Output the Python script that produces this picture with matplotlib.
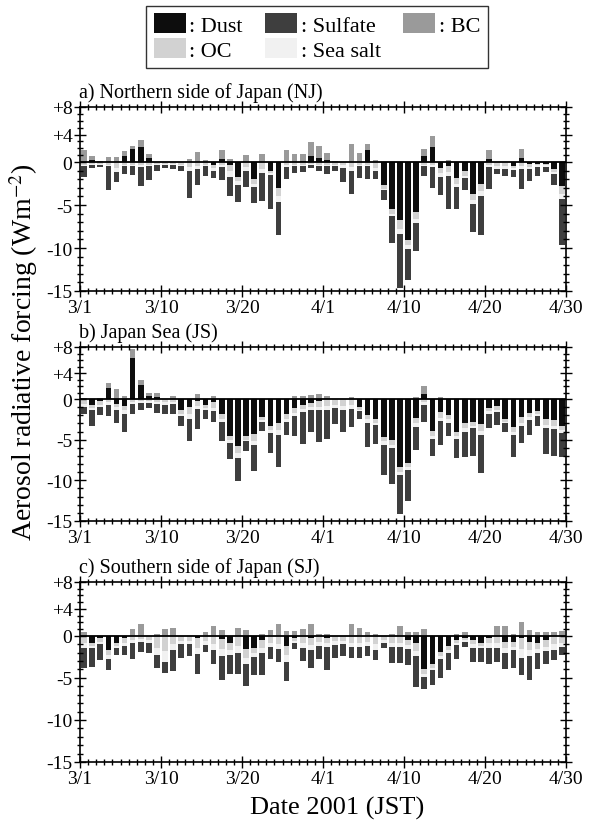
import numpy as np
import matplotlib
matplotlib.use("Agg")
import matplotlib.pyplot as plt
from matplotlib.patches import Patch

plt.rcParams['font.family'] = ['Liberation Serif', 'DejaVu Serif']
plt.rcParams['mathtext.fontset'] = 'stix'
plt.rcParams['axes.unicode_minus'] = False

# ---------------- data (W m-2), one value per day ----------------
tick_pos = [0, 10, 20, 30, 40, 50, 60]
tick_labels = ["3/1", "3/10", "3/20", "4/1", "4/10", "4/20", "4/30"]
y_ticks = [8, 4, 0, -5, -10, -15]
y_tick_labels = ["+8", "+4", "0", "-5", "-10", "-15"]
components = ["Dust", "Sulfate", "BC", "OC", "Sea salt"]
panel_titles = ["a) Northern side of Japan (NJ)", "b) Japan Sea (JS)",
                "c) Southern side of Japan (SJ)"]

# a) Northern side of Japan
dust_nj = [0, 0.35, 0, 0, 0, 0.9, 1.85, 2.15, 0.65, 0,
           0, 0, 0, 0, 0, 0, -0.3, 0.5, -0.3, -1.75,
           0, -1.95, 0, -1.1, -3.0, 0, 0, 0.2, 0.9, 0.6,
           0.3, 0, 0, 0, 0, 1.8, 0, -2.7, -5.5, -6.8,
           -9.1, -5.8, 0.9, 2.25, -0.7, -0.5, -1.9, -1.1, -3.7, -2.6,
           0.5, 0, 0, -0.5, 0.6, -0.2, -0.2, -0.2, -0.85, -2.8]
bc_nj = [1.7, 0.55, 0.1, 0.75, 0.75, 0.7, 0.5, 1.05, 0.5, 0.05,
         0, 0, 0, 0.4, 1.4, 0.3, 0, 1.2, 0.5, 0,
         1.0, 0, 1.2, 0, 0, 1.7, 1.2, 1.0, 2.0, 1.8,
         1.0, 0.1, 0, 2.6, 1.3, 0.8, 0.3, 0, 0, 0,
         0, 0, 1.0, 1.6, 0, 0.3, 0, 0, 0, 0,
         1.2, 0, 0, 0, 1.3, 0, 0, 0, 0, 0]
oc_nj = [-0.3, -0.2, -0.2, -0.3, -0.7, -0.3, -0.3, -0.4, -0.3, -0.2,
         -0.2, -0.2, -0.3, -0.6, -0.5, -0.3, -0.4, -0.4, -0.8, -0.5,
         -0.6, -0.6, -0.8, -0.2, -1.0, -0.4, -0.3, -0.3, -0.2, -0.3,
         -0.3, -0.3, -0.4, -0.6, -0.3, -0.3, -0.7, -0.4, -0.5, -1.0,
         -0.6, -0.8, -0.3, -0.4, -0.6, -0.7, -0.6, -0.5, -0.7, -0.8,
         -0.4, -0.5, -0.5, -0.2, -0.5, -0.4, -0.2, -0.2, -0.3, -0.9]
ss_nj = [-0.2, -0.1, -0.1, -0.2, -0.5, -0.2, -0.2, -0.2, -0.2, -0.1,
         -0.1, -0.1, -0.2, -0.4, -0.3, -0.2, -0.3, -0.2, -0.6, -0.4,
         -0.4, -0.4, -0.5, -0.2, -0.6, -0.2, -0.2, -0.2, -0.2, -0.2,
         -0.2, -0.2, -0.3, -0.4, -0.2, -0.2, -0.4, -0.2, -0.3, -0.6,
         -0.4, -0.5, -0.2, -0.2, -0.4, -0.4, -0.4, -0.3, -0.5, -0.5,
         -0.2, -0.3, -0.3, -0.2, -0.3, -0.2, -0.2, -0.2, -0.2, -0.6]
sulf_nj = [-1.28, -0.4, -0.3, -2.7, -1.1, -0.85, -1.0, -2.2, -1.55, -0.7,
           -0.4, -0.55, -0.5, -3.2, -1.9, -1.1, -0.9, -1.5, -2.2, -2.0,
           -1.85, -1.85, -3.2, -4.0, -3.9, -1.4, -0.75, -0.7, -0.3, -0.5,
           -0.9, -0.6, -1.6, -2.7, -1.3, -1.5, -0.9, -1.1, -3.1, -6.3,
           -3.6, -3.3, -1.15, -2.4, -2.15, -3.9, -2.6, -1.3, -3.2, -4.6,
           -2.5, -0.6, -0.85, -0.8, -2.3, -1.4, -1.0, -0.6, -1.35, -5.4]

# b) Japan Sea
dust_js = [0, -0.7, -0.2, 1.7, -0.6, -0.8, 6.3, 2.1, 0.5, 0.3,
           0, 0, -1.4, -1.0, -0.2, -0.7, -0.4, -1.8, -4.5, -5.8,
           -4.6, -4.3, -2.2, -3.3, -3.0, -1.9, -1.1, -0.7, -0.5, -0.3,
           0, 0, 0, 0, -1.0, -2.0, -2.5, -4.7, -5.0, -8.4,
           -7.9, -2.3, 0.7, -3.9, -1.6, -2.0, -4.0, -3.0, -2.8, -3.1,
           -1.1, -0.9, -2.5, -3.4, -2.2, -1.7, -1.5, -2.5, -2.6, -3.3]
bc_js = [0.1, 0, 0.1, 0.7, 1.5, 0.4, 1.4, 0.9, 0.4, 0.6,
         0, 0.5, 0, 0, 0.8, 0, 0.5, 0, 0, 0,
         0, 0, 0, 0, 0, 0, 0.4, 0.4, 0.6, 0.7,
         0.5, 0, 0, 0.3, 0, 0, 0, 0, 0, 0,
         0, 0.3, 1.3, 0, 0.3, 0, 0, 0, 0, 0,
         0, 0, 0, 0, 0, 0, 0, 0, 0, 0]
oc_js = [-0.6, -0.4, -0.5, -0.4, -0.4, -0.6, -0.4, -0.3, -0.3, -0.4,
         -0.4, -0.4, -0.4, -0.8, -0.6, -0.4, -0.7, -0.6, -0.5, -0.8,
         -0.4, -0.8, -0.4, -0.5, -0.8, -0.5, -0.6, -0.5, -0.5, -0.7,
         -0.8, -0.7, -0.8, -0.7, -0.3, -0.5, -0.4, -0.5, -0.6, -0.6,
         -0.5, -0.7, -0.4, -0.6, -0.7, -0.5, -0.5, -0.6, -0.5, -0.8,
         -0.4, -0.4, -0.3, -0.6, -0.7, -0.5, -0.4, -0.7, -0.7, -0.5]
ss_js = [-0.4, -0.2, -0.3, -0.3, -0.3, -0.4, -0.2, -0.2, -0.2, -0.2,
         -0.3, -0.2, -0.3, -0.6, -0.4, -0.3, -0.4, -0.4, -0.4, -0.6,
         -0.2, -0.5, -0.2, -0.4, -0.6, -0.4, -0.4, -0.4, -0.4, -0.4,
         -0.6, -0.4, -0.6, -0.5, -0.2, -0.4, -0.3, -0.4, -0.4, -0.4,
         -0.3, -0.5, -0.3, -0.4, -0.4, -0.4, -0.4, -0.4, -0.3, -0.5,
         -0.3, -0.3, -0.2, -0.4, -0.4, -0.4, -0.2, -0.4, -0.4, -0.4]
sulf_js = [-0.9, -2.0, -1.0, -1.4, -1.6, -2.3, -1.3, -0.8, -0.6, -1.1,
           -1.2, -1.3, -1.2, -2.8, -2.5, -1.1, -1.3, -2.3, -2.0, -2.9,
           -1.2, -3.2, -1.1, -2.4, -4.0, -1.6, -2.4, -3.9, -2.6, -3.9,
           -3.5, -2.0, -2.7, -2.3, -0.9, -3.0, -2.3, -3.7, -4.4, -4.7,
           -3.9, -2.8, -2.1, -2.1, -3.0, -1.7, -2.4, -3.1, -3.4, -4.7,
           -1.8, -1.6, -1.1, -2.7, -2.1, -1.8, -1.2, -3.2, -3.3, -2.9]

# c) Southern side of Japan
dust_sj = [0, -0.9, -0.2, -1.7, -0.9, -0.3, 0, 0, 0, 0,
           0, 0, 0, 0, -0.2, 0, 0, -0.4, -0.8, 0,
           -1.6, -1.4, -0.5, 0, 0, -1.2, -0.2, 0, -0.2, 0,
           -0.3, 0, 0, 0, 0, 0, 0, 0, 0, 0,
           -0.5, -0.9, -4.0, -3.3, -1.9, -1.2, -0.5, -0.2, -0.5, -0.8,
           -0.2, 0, -0.7, -0.7, -0.2, -0.7, -0.9, -0.5, 0, 0]
bc_sj = [0.6, 0, 0, 0, 0, 0, 1.0, 1.8, 0, 0.2,
         1.0, 1.2, 0, 0, 0, 0.6, 1.5, 0.8, 0, 1.2,
         0.9, 0, 0.3, 0.8, 1.8, 0.7, 0.7, 1.0, 1.8, 0.3,
         0.3, 0, 0, 1.7, 1.1, 0.6, 0.2, 0, 0.3, 1.5,
         0.5, 0.5, 1.0, 0, 0, 0, 0.2, 0.5, 0, 0,
         0, 1.5, 1.4, 0.3, 2.1, 0.9, 0.6, 0.6, 0.6, 0.7]
oc_sj = [-0.8, -0.3, -0.5, -0.6, -0.3, -0.5, -0.5, -0.4, -0.5, -1.4,
         -1.8, -1.0, -0.6, -0.6, -1.2, -0.6, -1.0, -1.2, -0.9, -1.2,
         -1.0, -0.6, -1.0, -0.8, -1.0, -1.1, -0.4, -0.8, -0.9, -0.7,
         -0.6, -0.6, -0.6, -0.8, -0.8, -0.7, -1.0, -0.5, -0.8, -0.8,
         -0.6, -0.9, -0.5, -0.5, -0.5, -0.5, -0.4, -0.3, -0.5, -0.4,
         -0.7, -0.9, -0.8, -0.6, -1.4, -1.0, -0.7, -0.8, -1.0, -0.8]
ss_sj = [-0.6, -0.2, -0.3, -0.4, -0.2, -0.4, -0.3, -0.3, -0.4, -0.9,
         -1.3, -0.7, -0.4, -0.4, -0.8, -0.5, -0.7, -0.8, -0.6, -0.9,
         -0.7, -0.5, -0.6, -0.5, -0.6, -0.8, -0.2, -0.6, -0.6, -0.5,
         -0.4, -0.5, -0.4, -0.5, -0.5, -0.5, -0.7, -0.4, -0.5, -0.5,
         -0.5, -0.6, -0.4, -0.3, -0.4, -0.4, -0.2, -0.2, -0.4, -0.2,
         -0.5, -0.6, -0.5, -0.4, -1.0, -0.7, -0.5, -0.5, -0.7, -0.5]
sulf_sj = [-2.4, -2.3, -1.9, -1.4, -0.9, -1.1, -2.0, -1.2, -1.2, -1.5,
           -1.3, -2.5, -1.6, -1.4, -2.3, -0.8, -1.6, -2.9, -2.2, -2.4,
           -2.7, -2.2, -2.5, -1.5, -1.5, -2.3, -0.8, -1.6, -2.1, -1.6,
           -2.8, -1.5, -1.4, -1.3, -1.3, -1.2, -1.2, -0.6, -1.9, -1.9,
           -1.9, -3.7, -1.4, -1.8, -2.2, -2.0, -1.7, -0.6, -1.7, -1.7,
           -1.9, -1.6, -1.9, -2.1, -2.1, -2.8, -1.9, -1.6, -1.2, -1.0]

panels = [
    (dust_nj, sulf_nj, bc_nj, oc_nj, ss_nj),
    (dust_js, sulf_js, bc_js, oc_js, ss_js),
    (dust_sj, sulf_sj, bc_sj, oc_sj, ss_sj),
]

# ---------------- style ----------------
colors = {"Dust": "#0d0d0d", "Sulfate": "#3e3e3e", "BC": "#9a9a9a",
          "OC": "#d2d2d2", "Sea salt": "#f1f1f1"}
POS = 0.8  # positive side of the axis is drawn compressed, as in the original


def fwd(y):
    y = np.asarray(y, dtype=float)
    return np.where(y > 0, y * POS, y)


def inv(y):
    y = np.asarray(y, dtype=float)
    return np.where(y > 0, y / POS, y)


W, H = 591, 828
fig = plt.figure(figsize=(W / 100, H / 100), dpi=100)
# axes boxes in pixels: (top, bottom)
boxes = [(108, 292), (348, 522), (583, 763)]
left_px, right_px = 80, 566

bar_w = 0.7
for k, ((dust, sulf, bc, oc, ss), (top, bot)) in enumerate(zip(panels, boxes)):
    ax = fig.add_axes([left_px / W, 1 - bot / H, (right_px - left_px) / W, (bot - top) / H])
    ax.set_yscale('function', functions=(fwd, inv))
    dust = np.array(dust, float)
    sulf = np.array(sulf, float)
    bc = np.array(bc, float)
    oc = np.array(oc, float)
    ss = np.array(ss, float)
    x = np.arange(len(dust)) + 0.5
    dpos = np.clip(dust, 0, None)
    dneg = np.clip(dust, None, 0)
    kw = dict(width=bar_w, linewidth=0)
    ax.bar(x, dpos, color=colors["Dust"], **kw)
    ax.bar(x, bc, bottom=dpos, color=colors["BC"], **kw)
    ax.bar(x, dneg, color=colors["Dust"], **kw)
    ax.bar(x, oc, bottom=dneg, color=colors["OC"], **kw)
    ax.bar(x, ss, bottom=dneg + oc, color=colors["Sea salt"], **kw)
    ax.bar(x, sulf, bottom=dneg + oc + ss, color=colors["Sulfate"], **kw)
    ax.axhline(0, color='black', lw=1.3, zorder=3)

    ax.set_xlim(0, 60)
    ax.set_ylim(-15, 8)
    ax.set_xticks(tick_pos)
    ax.set_xticklabels(tick_labels)
    ax.set_xticks(np.arange(0, 61), minor=True)
    ax.set_yticks(y_ticks)
    ax.set_yticklabels(y_tick_labels)
    ax.set_yticks([v for v in range(-14, 8) if v not in y_ticks], minor=True)
    ax.tick_params(which='both', direction='inout', top=True, right=True,
                   labelsize=14, width=1.0, pad=1.5)
    ax.tick_params(which='major', length=8)
    ax.tick_params(which='minor', length=5)
    for s in ax.spines.values():
        s.set_linewidth(1.2)
    ax.annotate(panel_titles[k], xy=(0, 1), xycoords='axes fraction',
                xytext=(-1, 7), textcoords='offset points',
                ha='left', va='baseline', fontsize=14.5)

# legend
handles = [Patch(facecolor=colors[c], edgecolor='none') for c in components]
order = [0, 3, 1, 4, 2]  # column-major fill -> rows: Dust Sulfate BC / OC Sea salt
leg = fig.legend([handles[i] for i in order], [": " + components[i] for i in order],
                 ncol=3, loc='center', bbox_to_anchor=(317 / W, 1 - 38 / H),
                 fontsize=16, frameon=True, fancybox=False, edgecolor='black',
                 handlelength=1.45, handleheight=0.95, handletextpad=0.15,
                 columnspacing=1.0, labelspacing=0.12, borderpad=0.35)
leg.get_frame().set_linewidth(1.0)

fig.text(24 / W, 1 - 352 / H, "Aerosol radiative forcing (Wm$^{-2}$)",
         rotation=90, ha='center', va='center', fontsize=20)
fig.text(337 / W, 1 - 808 / H, "Date 2001 (JST)", ha='center', va='center', fontsize=19)

fig.savefig("out.png", dpi=100)
